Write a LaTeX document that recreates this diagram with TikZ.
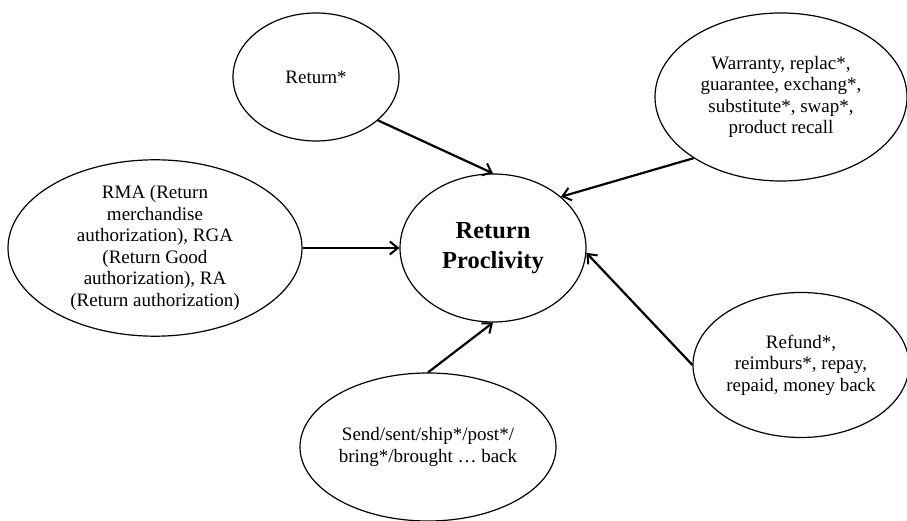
\documentclass[tikz,border=0pt]{standalone}
\usepackage{fontspec}
\setmainfont{Liberation Serif}
\usepackage{tikz}
\usetikzlibrary{arrows.meta, shapes.geometric}

\begin{document}
\begin{tikzpicture}[x=1pt, y=1pt, font=\fontsize{19pt}{21.5pt}\selectfont]
    \tikzset{
      termo/.style={ellipse, draw=black, line width=1.2pt, fill=white,
                    align=center, inner sep=0pt},
      centro/.style={termo, font=\fontsize{24.5pt}{30pt}\selectfont\bfseries},
      f/.style={-{Straight Barb[length=8pt, width=13pt, line width=2pt]},
                line width=2.2pt, color=black}
    }
    \useasboundingbox (0,0) rectangle (907,521);
    \node[centro, minimum width=186pt, minimum height=148pt] (rp) at (493,273) {Return\\Proclivity};
    \node[termo, minimum width=166pt, minimum height=128pt] (ret) at (316,444) {Return*};
    \node[termo, minimum width=294pt, minimum height=176pt] (rma) at (155,273)
      {RMA (Return\\merchandise\\authorization), RGA\\(Return Good\\authorization), RA\\(Return authorization)};
    \node[termo, minimum width=252pt, minimum height=168pt] (war) at (781,424)
      {Warranty, replac*,\\guarantee, exchang*,\\substitute*, swap*,\\product recall};
    \node[termo, minimum width=216pt, minimum height=145pt] (ref) at (801,156)
      {Refund*,\\reimburs*, repay,\\repaid, money back};
    \node[termo, minimum width=256pt, minimum height=148pt] (snd) at (428,74)
      {Send/sent/ship*/post*/\\bring*/brought \dots\ back};
    \draw[f] (ret.-35) -- (rp.north);
    \draw[f] (rma.east) -- (rp.west);
    \draw[f] (snd.north) -- (rp.south);
    \draw[f] (ref.west) -- (rp.-3);
    \draw[f] (war.215) -- (rp.37);
  \end{tikzpicture}
\end{document}
